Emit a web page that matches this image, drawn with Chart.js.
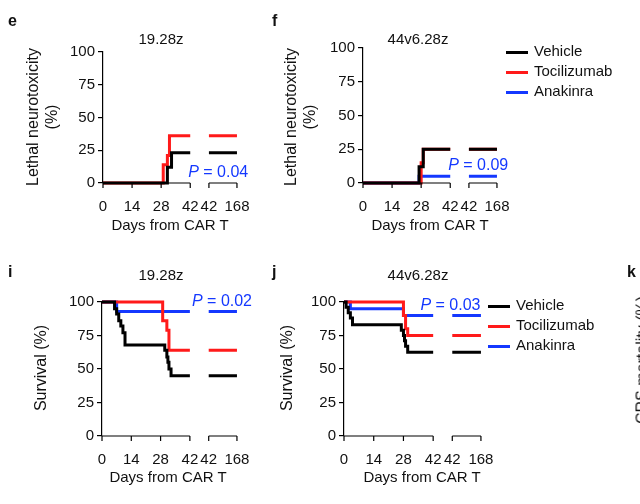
<!DOCTYPE html>
<html><head><meta charset="utf-8">
<script src="https://cdn.jsdelivr.net/npm/chart.js@4"></script>
<style>
body{margin:0;width:640px;height:504px;position:relative;overflow:hidden;background:#fff;font-family:"Liberation Sans",Arial,sans-serif;color:#111}
canvas{position:absolute;left:0;top:0}
.t{position:absolute;white-space:nowrap;font-size:15px}
.c{transform:translateX(-50%)}
.r{transform:translate(-50%,-50%) rotate(-90deg);text-align:center;line-height:19px;font-size:16px}
.L{font-weight:bold;font-size:16px}
.sw{position:absolute;height:3px;width:22px}
</style></head><body>
<script>
// ---- data (days, percent) ----
const xTicks=[0,14,28,42,42,168];
const yTicks=[0,25,50,75,100];
const eVehicle=[[0,0],[31,12],[33,23],[42,23],[168,23]];
const eToci=[[0,0],[29,14],[31,21],[32,36],[42,36],[168,36]];
const fVehicle=[[0,0],[27,12],[29,25],[42,25],[168,25]];
const fToci=[[0,0],[28,15],[29,25],[42,25],[168,25]];
const fAnak=[[0,0],[27,5],[42,5],[168,5]];
const iVehicle=[[0,100],[6,95],[7,91],[8,86],[9,82],[10,77],[11,68],[30,64],[31,59],[31.5,55],[32,50],[33,45],[42,45],[168,45]];
const iToci=[[0,100],[29,86],[31,79],[32,64],[42,64],[168,64]];
const iAnak=[[0,100],[7,93],[42,93],[168,93]];
const jVehicle=[[0,100],[1,96],[2,92],[3,88],[4,83],[27,79],[28,75],[28.5,71],[29,67],[30,62.5],[42,62.5],[168,62.5]];
const jToci=[[0,100],[28,90],[29,80],[30,75],[42,75],[168,75]];
const jAnak=[[0,100],[3,95],[28,90],[42,90],[168,90]];
const pE="0.04",pF="0.09",pI="0.02",pJ="0.03";

const BLACK="#000",RED="#ff1a1a",BLUE="#1438ff";
const S2=51,S2E=64.5;
function tx(d){return d<=42?d:S2+(d-42)/126*(S2E-S2);}
function toPts(a){const o=[];a.forEach((p,i)=>{if(p[0]===168&&a[i-1]&&a[i-1][0]===42){o.push({x:46,y:null});o.push({x:S2,y:p[1]});}o.push({x:tx(p[0]),y:p[1]});});return o;}
const tickPos=[0,14,28,42,S2,S2E];

const brokenAxis={id:'ba',afterDraw(ch,a,o){const c=ch.ctx,x=ch.scales.x,y=ch.scales.y.bottom;c.save();c.strokeStyle='#000';c.lineWidth=1.2;c.beginPath();
 [[0,42],[S2,S2E]].forEach(s=>{c.moveTo(x.getPixelForValue(s[0]),y);c.lineTo(x.getPixelForValue(s[1]),y);});
 tickPos.forEach(t=>{const px=x.getPixelForValue(t);c.moveTo(px,y);c.lineTo(px,y+5);});c.stroke();
 if(o.p){c.fillStyle=BLUE;c.textBaseline='middle';const px=x.getPixelForValue(o.p.x),py=ch.scales.y.getPixelForValue(o.p.y);
 c.font='italic 16px "Liberation Sans",Arial';c.fillText('P',px,py);const w=c.measureText('P').width;c.font='16px "Liberation Sans",Arial';c.fillText(' = '+o.p.t,px+w,py);}
 c.restore();}};

function panel(area,series,p){
 const cv=document.createElement('canvas');cv.width=640;cv.height=504;cv.style.width='640px';cv.style.height='504px';document.body.appendChild(cv);
 new Chart(cv,{type:'line',data:{datasets:series.map(s=>({data:toPts(s[0]),borderColor:s[1],borderWidth:3,pointRadius:0,stepped:'before',spanGaps:false,clip:false,fill:false}))},
 options:{responsive:false,animation:false,devicePixelRatio:1,plugins:{legend:{display:false},tooltip:{enabled:false},ba:{p:p}},
 layout:{padding:{left:area.l-34,top:area.t,right:640-area.r,bottom:504-area.b-32}},
 scales:{x:{type:'linear',min:0,max:65,grid:{display:false},border:{display:false},
   afterBuildTicks:s=>{s.ticks=tickPos.map(v=>({value:v}));},afterFit:s=>{s.height=32;},
   ticks:{autoSkip:false,maxRotation:0,padding:7,color:'#111',font:{size:15,family:'"Liberation Sans",Arial'},callback:(v,i)=>String(xTicks[i])}},
  y:{min:0,max:100,afterBuildTicks:s=>{s.ticks=yTicks.map(v=>({value:v}));},afterFit:s=>{s.width=34;},
   grid:{drawOnChartArea:false,tickLength:5,color:'#000',lineWidth:1.2},border:{color:'#000',width:1.2},
   ticks:{padding:3,color:'#111',font:{size:15,family:'"Liberation Sans",Arial'}}}}},plugins:[brokenAxis]});
}
panel({l:103,t:52,r:238,b:183},[[eVehicle,BLACK],[eToci,RED]],{x:41,y:8,t:pE});
panel({l:363,t:48,r:498,b:183},[[fVehicle,BLACK],[fToci,RED],[fAnak,BLUE]],{x:41,y:13,t:pF});
panel({l:102,t:302,r:238,b:436},[[iVehicle,BLACK],[iToci,RED],[iAnak,BLUE]],{x:43,y:100,t:pI});
panel({l:344,t:302,r:482,b:436},[[jVehicle,BLACK],[jToci,RED],[jAnak,BLUE]],{x:36,y:97,t:pJ});

function txt(h,x,y,cls){const d=document.createElement('div');d.className='t '+(cls||'');d.innerHTML=h;d.style.left=x+'px';d.style.top=y+'px';document.body.appendChild(d);}
txt('e',8,12,'L');txt('f',272,12,'L');txt('i',8,263,'L');txt('j',272,263,'L');txt('k',627,263,'L');
txt('19.28z',161,30,'c');txt('44v6.28z',418,30,'c');txt('19.28z',161,266,'c');txt('44v6.28z',418,266,'c');
txt('Days from CAR T',170,216,'c');txt('Days from CAR T',430,216,'c');txt('Days from CAR T',168,468,'c');txt('Days from CAR T',422,468,'c');
txt('Lethal neurotoxicity<br>(%)',42,117,'r');txt('Lethal neurotoxicity<br>(%)',300,117,'r');
txt('Survival (%)',40,368,'r');txt('Survival (%)',286,368,'r');txt('CRS mortality (%)',642,360,'r');
function leg(x,y,items){items.forEach((it,i)=>{const s=document.createElement('div');s.className='sw';s.style.background=it[1];s.style.left=x+'px';s.style.top=(y+i*20+9)+'px';document.body.appendChild(s);txt(it[0],x+28,y+i*20,'');});}
leg(506,42,[['Vehicle',BLACK],['Tocilizumab',RED],['Anakinra',BLUE]]);
leg(488,296,[['Vehicle',BLACK],['Tocilizumab',RED],['Anakinra',BLUE]]);
</script></body></html>
